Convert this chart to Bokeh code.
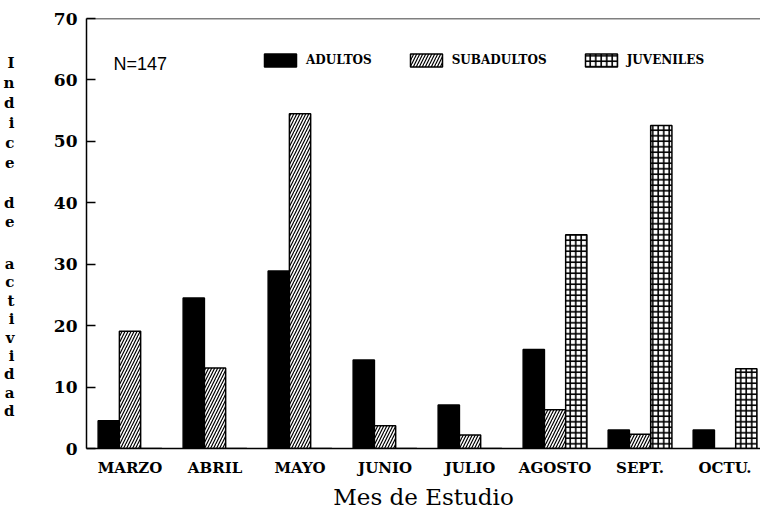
from bokeh.plotting import figure
from bokeh.models import Range1d, FixedTicker, Label, Span, Legend, LegendItem, ColumnDataSource, LinearAxis
from bokeh.embed import file_html
from bokeh.resources import INLINE

months = ["MARZO", "ABRIL", "MAYO", "JUNIO", "JULIO", "AGOSTO", "SEPT.", "OCTU."]
adultos = [4.5, 24.5, 28.9, 14.4, 7.1, 16.1, 3.0, 3.0]
subadultos = [19.1, 13.1, 54.5, 3.7, 2.2, 6.3, 2.3, 0.0]
juveniles = [0.0, 0.0, 0.0, 0.0, 0.0, 34.8, 52.6, 13.0]
y_ticks = [0, 10, 20, 30, 40, 50, 60, 70]
ylabel_words = ["Indice", "de", "actividad"]

SERIF = "DejaVu Serif"
idx = list(range(len(months)))
bw = 0.25

p = figure(frame_width=674, frame_height=430,
           output_backend="svg", toolbar_location=None,
           x_range=Range1d(-0.512, 7.417), y_range=Range1d(0, 70),
           min_border_left=86, min_border_right=0, min_border_top=18, min_border_bottom=63)
p.outline_line_color = None
p.grid.visible = False
p.background_fill_color = "white"

src = ColumnDataSource(dict(
    xa=[i - bw for i in idx], xs=idx, xj=[i + bw for i in idx],
    a=adultos, s=subadultos, j=juveniles))

ra = p.vbar(x="xa", top="a", width=bw, source=src, fill_color="black",
            line_color="black", line_width=1.5)
rs = p.vbar(x="xs", top="s", width=bw, source=src, fill_color="white",
            line_color="black", line_width=1.5, hatch_pattern="/",
            hatch_color="black", hatch_scale=6, hatch_weight=1.2)
rj = p.vbar(x="xj", top="j", width=bw, source=src, fill_color="white",
            line_color="black", line_width=1.5, hatch_pattern="+",
            hatch_color="black", hatch_scale=5.5, hatch_weight=1.6)

# top border line
p.add_layout(Span(location=70, dimension="width", line_color="black", line_width=1.5))

# axes
p.yaxis.ticker = FixedTicker(ticks=y_ticks)
p.yaxis.minor_tick_line_color = None
p.yaxis.major_tick_in = 9
p.yaxis.major_tick_out = 0
p.yaxis.major_tick_line_width = 1.5
p.yaxis.axis_line_width = 1.5
p.yaxis.major_label_standoff = 9
p.yaxis.major_label_text_font = SERIF
p.yaxis.major_label_text_font_size = "17px"
p.yaxis.major_label_text_font_style = "bold"
p.yaxis.major_label_text_color = "black"

p.xaxis.ticker = FixedTicker(ticks=idx)
p.xaxis.major_label_overrides = {i: m for i, m in enumerate(months)}
p.xaxis.major_tick_line_color = None
p.xaxis.minor_tick_line_color = None
p.xaxis.axis_line_width = 1.5
p.xaxis.major_label_standoff = 4
p.xaxis.major_label_text_font = SERIF
p.xaxis.major_label_text_font_size = "15px"
p.xaxis.major_label_text_font_style = "bold"
p.xaxis.major_label_text_color = "black"
p.xaxis.axis_label = "Mes de Estudio"
p.xaxis.axis_label_text_font = SERIF
p.xaxis.axis_label_text_font_size = "23px"
p.xaxis.axis_label_text_font_style = "normal"
p.xaxis.axis_label_text_color = "black"
p.xaxis.axis_label_standoff = 4

# vertical stacked y-axis label, drawn as an extra axis whose ticks are the letters
starts = [62, 202, 263]
steps = [20, 19, 18.4]
letter_ticks = []
letter_map = {}
for word, y0, st in zip(ylabel_words, starts, steps):
    for k, ch in enumerate(word):
        t = int(round(y0 + k * st - 18))
        letter_ticks.append(t)
        letter_map[t] = ch
p.extra_y_ranges = {"lab": Range1d(start=430, end=0)}
lab_axis = LinearAxis(y_range_name="lab", ticker=FixedTicker(ticks=letter_ticks),
                      major_label_overrides=letter_map, axis_line_color=None,
                      major_tick_line_color=None, minor_tick_line_color=None,
                      major_label_standoff=30, major_label_text_font=SERIF,
                      major_label_text_font_style="bold", major_label_text_font_size="15px",
                      major_label_text_color="black", major_label_text_align="center")
p.add_layout(lab_axis, "left")

# N label
p.add_layout(Label(x=-0.512, y=(448 - 63) * 70 / 430.0, x_offset=27, text="N=147",
                   text_baseline="middle", text_font="Liberation Sans",
                   text_font_size="18px", text_color="black"))

legend = Legend(items=[LegendItem(label="ADULTOS", renderers=[ra]),
                       LegendItem(label="SUBADULTOS", renderers=[rs]),
                       LegendItem(label="JUVENILES", renderers=[rj])],
                orientation="horizontal", location=(174, 380),
                glyph_width=40, glyph_height=16, label_standoff=6, spacing=34,
                padding=0, margin=0, border_line_color=None, background_fill_alpha=0,
                label_text_font=SERIF, label_text_font_style="bold",
                label_text_font_size="12px", label_text_color="black",
                label_height=16)
p.add_layout(legend)

open("out.html", "w").write(file_html(p, INLINE))
